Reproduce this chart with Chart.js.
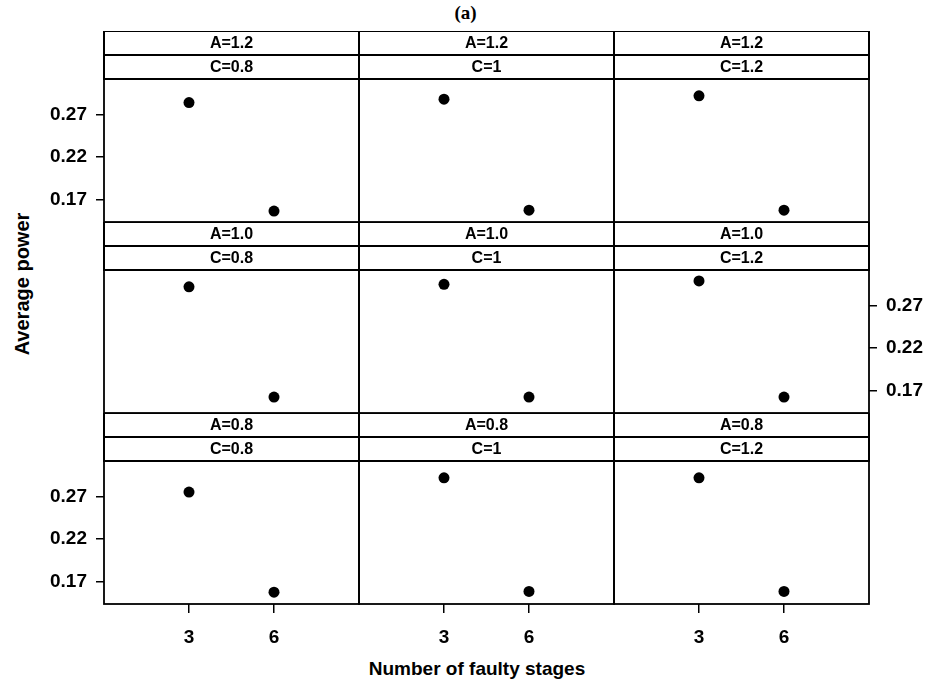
<!DOCTYPE html>
<html>
<head>
<meta charset="utf-8">
<title>Average power by number of faulty stages</title>
<script src="https://cdn.jsdelivr.net/npm/chart.js@4.4.0/dist/chart.umd.min.js"></script>
<style>
  html, body { margin: 0; padding: 0; background: #fff; overflow: hidden; }
  #fig { position: relative; width: 931px; height: 685px; background: #fff; overflow: hidden; }
  #fig canvas { position: absolute; }
  .lbl { position: absolute; color: #000; white-space: nowrap; font-family: 'Liberation Sans', Arial, Helvetica, sans-serif; font-weight: bold; }
  #mainTitle { left: 0; width: 931px; top: 3px; text-align: center; font-family: 'Liberation Serif', 'Times New Roman', serif; font-size: 19px; line-height: 19px; }
  #xTitle { left: 477px; top: 659px; font-size: 19px; line-height: 19px; transform: translateX(-50%); }
  #yTitle { left: 22px; top: 284px; font-size: 20px; line-height: 20px; transform: translate(-50%, -50%) rotate(-90deg); }
</style>
</head>
<body>
<div id="fig">
  <div class="lbl" id="mainTitle">(a)</div>
  <div class="lbl" id="xTitle">Number of faulty stages</div>
  <div class="lbl" id="yTitle">Average power</div>
</div>
<script>
// Conditioning levels: rows are A (top to bottom), columns are C (left to right)
const levelsA = ['1.2', '1.0', '0.8'];
const levelsC = ['0.8', '1', '1.2'];

// Number of faulty stages on the x axis
const stages = [3, 6];

// Average power at 3 and 6 faulty stages, one pair per C level
const powerA12 = [[0.285, 0.156], [0.289, 0.157], [0.293, 0.157]];
const powerA10 = [[0.293, 0.162], [0.296, 0.162], [0.300, 0.162]];
const powerA08 = [[0.276, 0.157], [0.293, 0.158], [0.293, 0.158]];

// Tick values
const powerTicks = [0.17, 0.22, 0.27];
const stageTicks = [3, 6];

const powerByRow = [powerA12, powerA10, powerA08];

// Panel geometry
const colLefts = [104, 359, 614];
const colWidth = 255;
const rowTops = [31, 222, 413];
const stripH = 24;
const plotH = 143;
const sideMargin = 100;
const bottomMargin = 60;
const yAxisW = 70;
const xAxisH = 50;

const FONT = "'Liberation Sans', Arial, Helvetica, sans-serif";
Chart.defaults.font.family = FONT;
Chart.defaults.color = '#000';

// Draws the strip labels above each panel and the panel frame
const stripPlugin = {
  id: 'strips',
  afterDraw(chart, args, opts) {
    const { ctx, chartArea: a } = chart;
    const w = a.right - a.left;
    ctx.save();
    ctx.strokeStyle = '#000';
    opts.labels.forEach((txt, i) => {
      const top = a.top - (opts.labels.length - i) * stripH;
      ctx.fillStyle = '#fff';
      ctx.fillRect(a.left, top, w, stripH);
      ctx.lineWidth = 2;
      ctx.strokeRect(a.left, top, w, stripH);
      ctx.fillStyle = '#000';
      ctx.font = 'bold 16px ' + FONT;
      ctx.textAlign = 'center';
      ctx.textBaseline = 'middle';
      ctx.fillText(txt, a.left + w / 2, top + stripH / 2 + 1);
    });
    ctx.lineWidth = 1.8;
    ctx.strokeRect(a.left, a.top, w, a.bottom - a.top);
    ctx.restore();
  }
};

const fig = document.getElementById('fig');

function makePanel(row, col) {
  const showLeft = row !== 1 && col === 0;
  const showRight = row === 1 && col === 2;
  const showX = row === 2;
  const values = powerByRow[row][col];

  const canvas = document.createElement('canvas');
  const cw = colWidth + 2 * sideMargin;
  const ch = 2 * stripH + plotH + bottomMargin;
  canvas.width = cw;
  canvas.height = ch;
  canvas.style.left = (colLefts[col] - sideMargin) + 'px';
  canvas.style.top = rowTops[row] + 'px';
  canvas.style.width = cw + 'px';
  canvas.style.height = ch + 'px';
  fig.appendChild(canvas);

  new Chart(canvas, {
    type: 'scatter',
    data: {
      datasets: [{
        data: stages.map((s, i) => ({ x: s, y: values[i] })),
        pointRadius: 5.5,
        pointHoverRadius: 5.5,
        pointBackgroundColor: '#000',
        pointBorderWidth: 0,
        showLine: false
      }]
    },
    options: {
      responsive: false,
      animation: false,
      events: [],
      layout: {
        autoPadding: false,
        padding: {
          left: sideMargin - (showLeft ? yAxisW : 0),
          right: sideMargin - (showRight ? yAxisW : 0),
          top: 2 * stripH,
          bottom: bottomMargin - (showX ? xAxisH : 0)
        }
      },
      scales: {
        x: {
          type: 'linear',
          min: 0,
          max: 9,
          display: showX,
          afterBuildTicks: ax => { ax.ticks = stageTicks.map(v => ({ value: v })); },
          afterFit: ax => { if (showX) ax.height = xAxisH; },
          ticks: {
            padding: 13,
            maxRotation: 0,
            font: { size: 19, weight: 'bold' },
            callback: v => String(v)
          },
          grid: { drawOnChartArea: false, drawTicks: true, tickLength: 9, color: '#000', lineWidth: 1.5 },
          border: { display: false }
        },
        y: {
          type: 'linear',
          min: 0.143,
          max: 0.313,
          position: showRight ? 'right' : 'left',
          display: showLeft || showRight,
          afterBuildTicks: ax => { ax.ticks = powerTicks.map(v => ({ value: v })); },
          afterFit: ax => { if (showLeft || showRight) ax.width = yAxisW; },
          ticks: {
            padding: 9,
            font: { size: 19, weight: 'bold' },
            callback: v => Number(v).toFixed(2)
          },
          grid: { drawOnChartArea: false, drawTicks: true, tickLength: 8, color: '#000', lineWidth: 1.5 },
          border: { display: false }
        }
      },
      plugins: {
        legend: { display: false },
        tooltip: { enabled: false },
        strips: { labels: ['A=' + levelsA[row], 'C=' + levelsC[col]] }
      }
    },
    plugins: [stripPlugin]
  });
}

for (let r = 0; r < 3; r++) {
  for (let c = 0; c < 3; c++) {
    makePanel(r, c);
  }
}
</script>
</body>
</html>
